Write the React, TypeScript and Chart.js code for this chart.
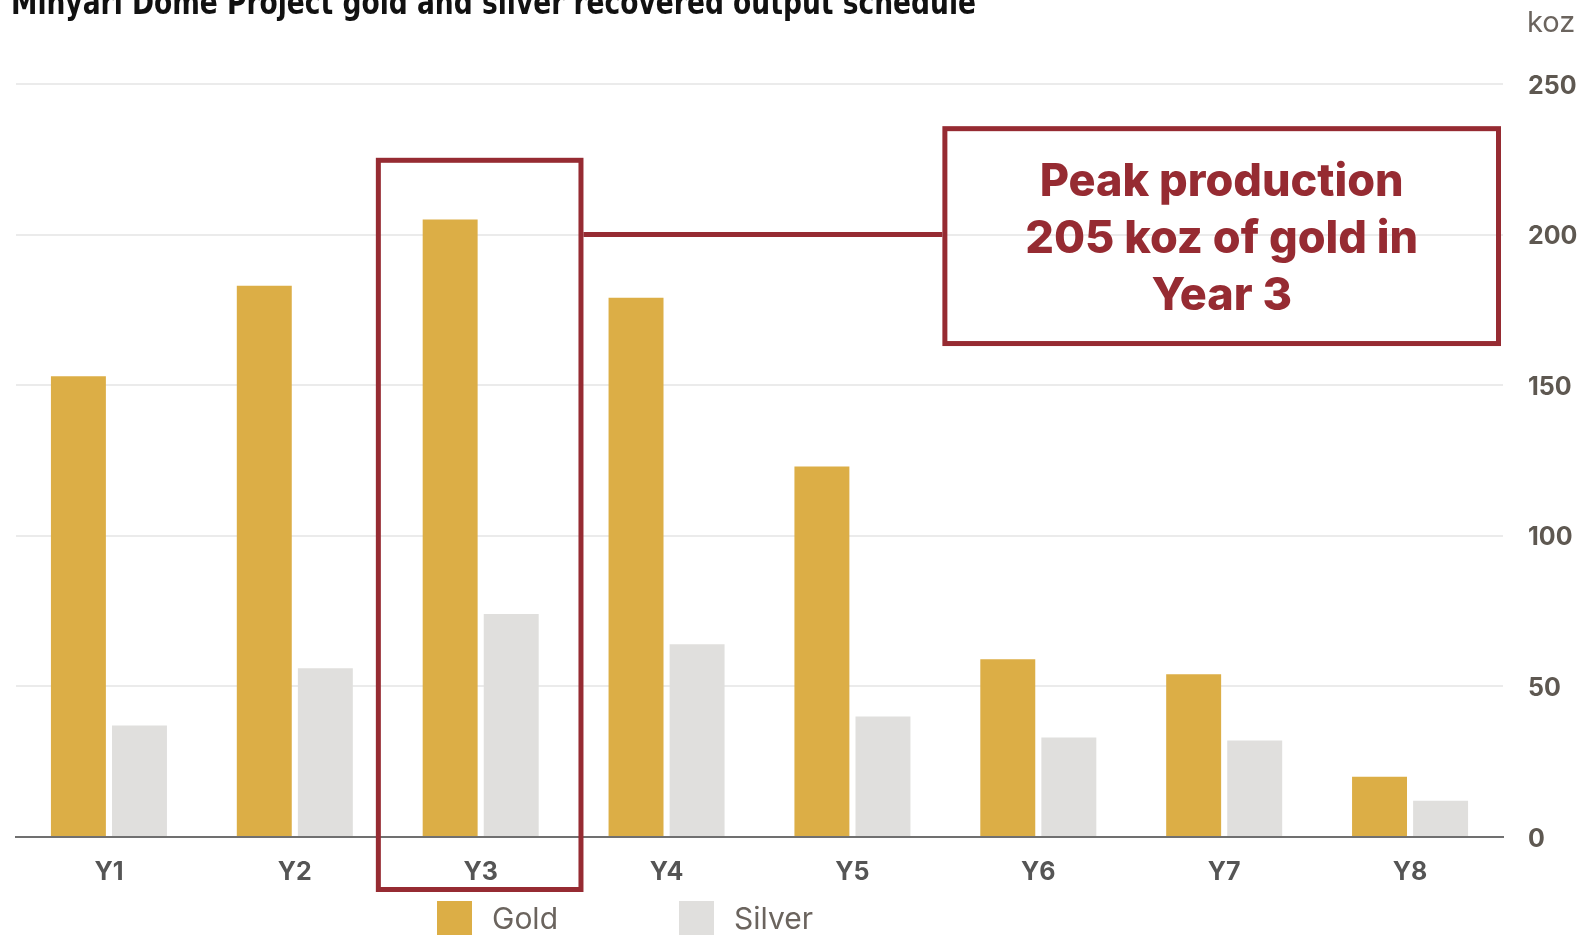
import React, { useEffect, useRef } from "react";
import { Chart, registerables } from "chart.js";

Chart.register(...registerables);

const TITLE = "Minyari Dome Project gold and silver recovered output schedule";
const UNIT = "koz";
const CATEGORIES = ["Y1", "Y2", "Y3", "Y4", "Y5", "Y6", "Y7", "Y8"];
const GOLD = [153, 183, 205, 179, 123, 59, 54, 20];
const SILVER = [37, 56, 74, 64, 40, 33, 32, 12];
const SERIES_NAMES = ["Gold", "Silver"];
const Y_MIN = 0;
const Y_MAX = 250;
const Y_STEP = 50;
const NOTE_LINES = ["Peak production", "205 koz of gold in", "Year 3"];
const HIGHLIGHT_INDEX = 2;
const HIGHLIGHT_TOP_VALUE = 225.5;
const CONNECTOR_VALUE = 200;
const NOTE_TOP_VALUE = 236;
const NOTE_BOTTOM_VALUE = 163;
const NOTE_LEFT_INDEX = 4.5;

const GOLD_COLOR = "#dcae46";
const SILVER_COLOR = "#e0dfdd";
const RED = "#962b32";
const TICK_COLOR = "#5e5851";
const LEGEND_TEXT = "#6b645e";

const overlayPlugin = {
  id: "overlay",
  afterDraw(chart: any) {
    const ctx = chart.ctx as CanvasRenderingContext2D;
    const x = chart.scales.x;
    const y = chart.scales.y;
    const area = chart.chartArea;
    ctx.save();

    // Title (condensed bold, top partially cut)
    ctx.font = "bold 33px 'Liberation Sans Narrow', 'DejaVu Sans Condensed', 'Liberation Sans', sans-serif";
    ctx.fillStyle = "#111111";
    ctx.textBaseline = "alphabetic";
    ctx.textAlign = "left";
    const tw = ctx.measureText(TITLE).width;
    ctx.save();
    ctx.translate(11, 14);
    ctx.scale(965 / tw, 1);
    ctx.fillText(TITLE, 0, 0);
    ctx.restore();

    // Unit label
    ctx.font = "29px Inter, sans-serif";
    ctx.fillStyle = LEGEND_TEXT;
    ctx.fillText(UNIT, 1527, 32);

    // Highlight box around peak year
    const catW = (area.right - area.left) / CATEGORIES.length;
    const cx = x.getPixelForValue(HIGHLIGHT_INDEX);
    const lw = 5;
    const hl = cx - catW * 0.564;
    const hr = cx + catW * 0.553;
    const ht = y.getPixelForValue(HIGHLIGHT_TOP_VALUE);
    const hb = area.bottom + 55;
    ctx.strokeStyle = RED;
    ctx.lineWidth = lw;
    ctx.strokeRect(hl + lw / 2, ht + lw / 2, hr - hl - lw, hb - ht - lw);

    // Note box
    const nl = x.getPixelForValue(NOTE_LEFT_INDEX) - 3;
    const nr = area.right - 2;
    const nt = y.getPixelForValue(NOTE_TOP_VALUE);
    const nb = y.getPixelForValue(NOTE_BOTTOM_VALUE);
    ctx.strokeRect(nl + lw / 2, nt + lw / 2, nr - nl - lw, nb - nt - lw);

    // Connector
    const cy = y.getPixelForValue(CONNECTOR_VALUE);
    ctx.beginPath();
    ctx.moveTo(hr, cy);
    ctx.lineTo(nl, cy);
    ctx.stroke();

    // Note text
    ctx.font = "800 45px Inter, sans-serif";
    ctx.fillStyle = RED;
    ctx.textAlign = "center";
    ctx.textBaseline = "alphabetic";
    const mid = (nt + nb) / 2;
    const mx = (nl + nr) / 2;
    NOTE_LINES.forEach((line, i) => {
      ctx.fillText(line, mx, mid + (i - 1) * 57 + 17);
    });

    // Legend
    const colors = [GOLD_COLOR, SILVER_COLOR];
    const legendX = [437, 679];
    ctx.font = "30px Inter, sans-serif";
    ctx.textAlign = "left";
    SERIES_NAMES.forEach((name, i) => {
      ctx.fillStyle = colors[i];
      ctx.fillRect(legendX[i], 901, 35, 35);
      ctx.fillStyle = LEGEND_TEXT;
      ctx.fillText(name, legendX[i] + 55, 929);
    });

    ctx.restore();
  },
};

export default function App() {
  const canvasRef = useRef<HTMLCanvasElement | null>(null);

  useEffect(() => {
    const canvas = canvasRef.current;
    if (!canvas) return;
    const chart = new Chart(canvas, {
      type: "bar",
      data: {
        labels: CATEGORIES,
        datasets: [
          {
            label: SERIES_NAMES[0],
            data: GOLD,
            backgroundColor: GOLD_COLOR,
            borderWidth: 0,
          },
          {
            label: SERIES_NAMES[1],
            data: SILVER,
            backgroundColor: SILVER_COLOR,
            borderWidth: 0,
          },
        ],
      },
      options: {
        responsive: false,
        animation: false,
        devicePixelRatio: 1,
        datasets: {
          bar: {
            categoryPercentage: 0.657,
            barPercentage: 0.9,
          },
        },
        layout: {
          padding: { left: 16, top: 84, right: 0, bottom: 38 },
        },
        plugins: {
          legend: { display: false },
          title: { display: false },
          tooltip: { enabled: false },
        },
        scales: {
          x: {
            grid: { display: false, drawTicks: false },
            border: { display: true, color: "#707070", width: 2 },
            ticks: {
              color: "#555555",
              font: { family: "Inter, sans-serif", size: 25, weight: "bold" },
              padding: 20,
            },
            afterFit(scale: any) {
              scale.height = 60;
            },
          },
          y: {
            position: "right",
            min: Y_MIN,
            max: Y_MAX,
            ticks: {
              stepSize: Y_STEP,
              color: TICK_COLOR,
              font: { family: "Inter, sans-serif", size: 25, weight: "bold" },
              padding: 25,
              labelOffset: 2,
            },
            grid: { color: "#ebebeb", lineWidth: 2, drawTicks: false },
            border: { display: false },
            afterFit(scale: any) {
              scale.width = 93;
            },
          },
        },
      },
      plugins: [overlayPlugin],
    });
    return () => chart.destroy();
  }, []);

  return (
    <div style={{ position: "absolute", left: 0, top: 0, width: 1596, height: 935, background: "#ffffff" }}>
      <canvas ref={canvasRef} width={1596} height={935} style={{ display: "block" }} />
    </div>
  );
}
